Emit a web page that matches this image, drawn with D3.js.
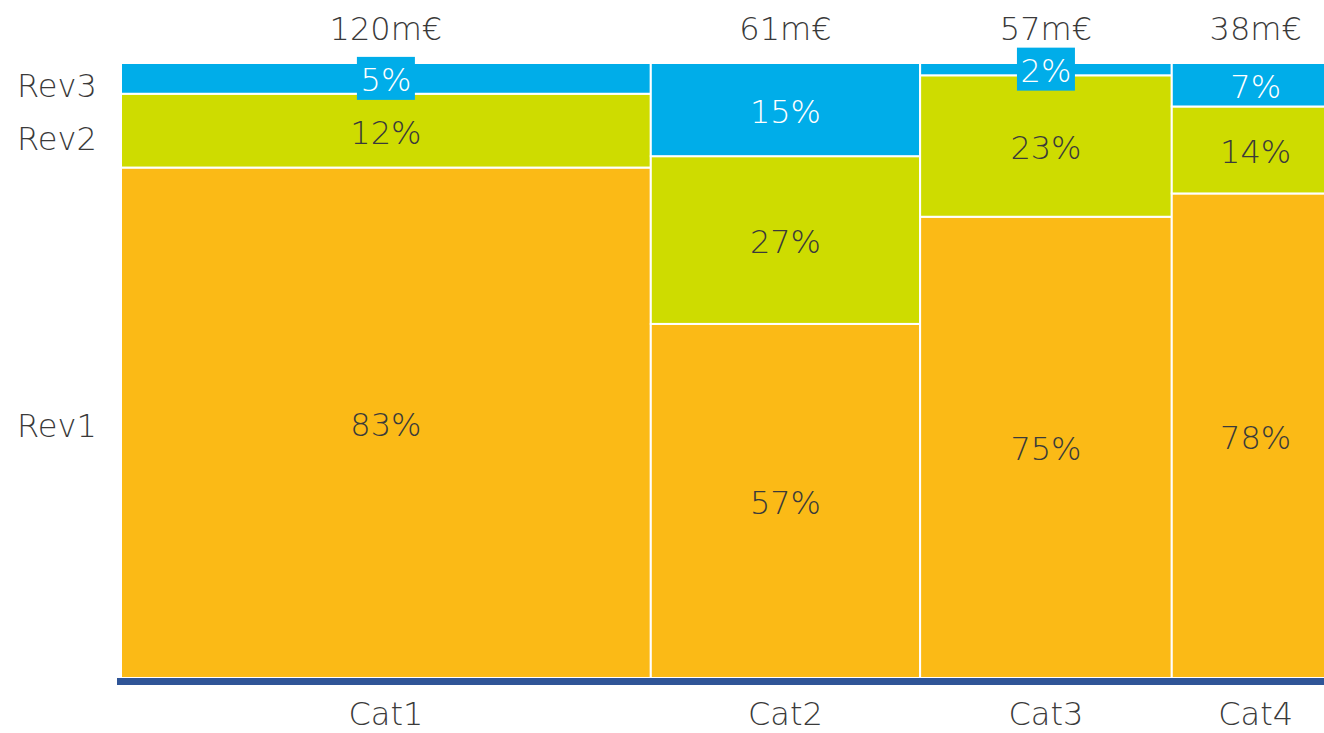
<!DOCTYPE html>
<html>
<head>
<meta charset="utf-8">
<script src="https://cdn.jsdelivr.net/npm/d3@7"></script>
<style>
html,body{margin:0;padding:0;background:#fff;overflow:hidden;}
svg text{font-family:"DejaVu Sans",sans-serif;font-weight:200;}
</style>
</head>
<body>
<svg id="chart" width="1324" height="733"></svg>
<script>
const categories = ["Cat1", "Cat2", "Cat3", "Cat4"];
const totals = [120, 61, 57, 38];
const totalLabels = ["120m€", "61m€", "57m€", "38m€"];
const seriesNames = ["Rev1", "Rev2", "Rev3"];
const rev1 = [83, 57, 75, 78];
const rev2 = [12, 27, 23, 14];
const rev3 = [5, 15, 2, 7];
const colors = ["#FBBA16", "#CEDC00", "#00ADE9"];
const textColors = ["#3a3a3a", "#3a3a3a", "#ffffff"];

const svg = d3.select("#chart");
const fontSize = 32;
const grand = d3.sum(totals);
const x = d3.scaleLinear().domain([0, grand]).range([121, 121 + grand * 4.415]);
const y = d3.scaleLinear().domain([0, 1]).range([678, 63]);

const series = [rev1, rev2, rev3];
let cum = 0;
const cols = categories.map((c, i) => {
  const x0 = cum; cum += totals[i];
  const s = d3.sum(series, r => r[i]);
  let acc = 0;
  const segs = series.map((r, k) => {
    const y0 = acc / s; acc += r[i];
    return {k, v: r[i], y0, y1: acc / s};
  });
  return {c, i, x0, x1: cum, segs};
});

const g = svg.append("g");
cols.forEach(col => {
  col.segs.forEach(sg => {
    g.append("rect")
      .attr("x", x(col.x0)).attr("width", x(col.x1) - x(col.x0))
      .attr("y", y(sg.y1)).attr("height", y(sg.y0) - y(sg.y1))
      .attr("fill", colors[sg.k]).attr("stroke", "#fff").attr("stroke-width", 2);
  });
});

// baseline
svg.append("line").attr("x1", 117).attr("x2", 1324)
  .attr("y1", y(0) + 3.5).attr("y2", y(0) + 3.5)
  .attr("stroke", "#2F5597").attr("stroke-width", 7);

// segment labels
cols.forEach(col => {
  const cx = (x(col.x0) + x(col.x1)) / 2;
  col.segs.forEach(sg => {
    const cy = (y(sg.y0) + y(sg.y1)) / 2;
    const h = y(sg.y0) - y(sg.y1);
    if (h < 40) {
      svg.append("rect").attr("x", cx - 29).attr("y", cy - 21.5)
        .attr("width", 58).attr("height", 43).attr("fill", colors[sg.k]);
    }
    svg.append("text").attr("x", cx).attr("y", cy + 13)
      .attr("text-anchor", "middle").attr("font-size", fontSize)
      .attr("fill", textColors[sg.k]).text(sg.v + "%");
  });
  // total label
  svg.append("text").attr("x", cx).attr("y", 40)
    .attr("text-anchor", "middle").attr("font-size", fontSize)
    .attr("fill", "#3a3a3a").text(totalLabels[col.i]);
  // category label
  svg.append("text").attr("x", cx).attr("y", 725)
    .attr("text-anchor", "middle").attr("font-size", fontSize)
    .attr("fill", "#3a3a3a").text(col.c);
});

// series labels aligned with first column
const seriesY = [437, 150, 97];
seriesNames.forEach((n, k) => {
  svg.append("text").attr("x", 17).attr("y", seriesY[k])
    .attr("font-size", fontSize).attr("fill", "#3a3a3a").text(n);
});
</script>
</body>
</html>
